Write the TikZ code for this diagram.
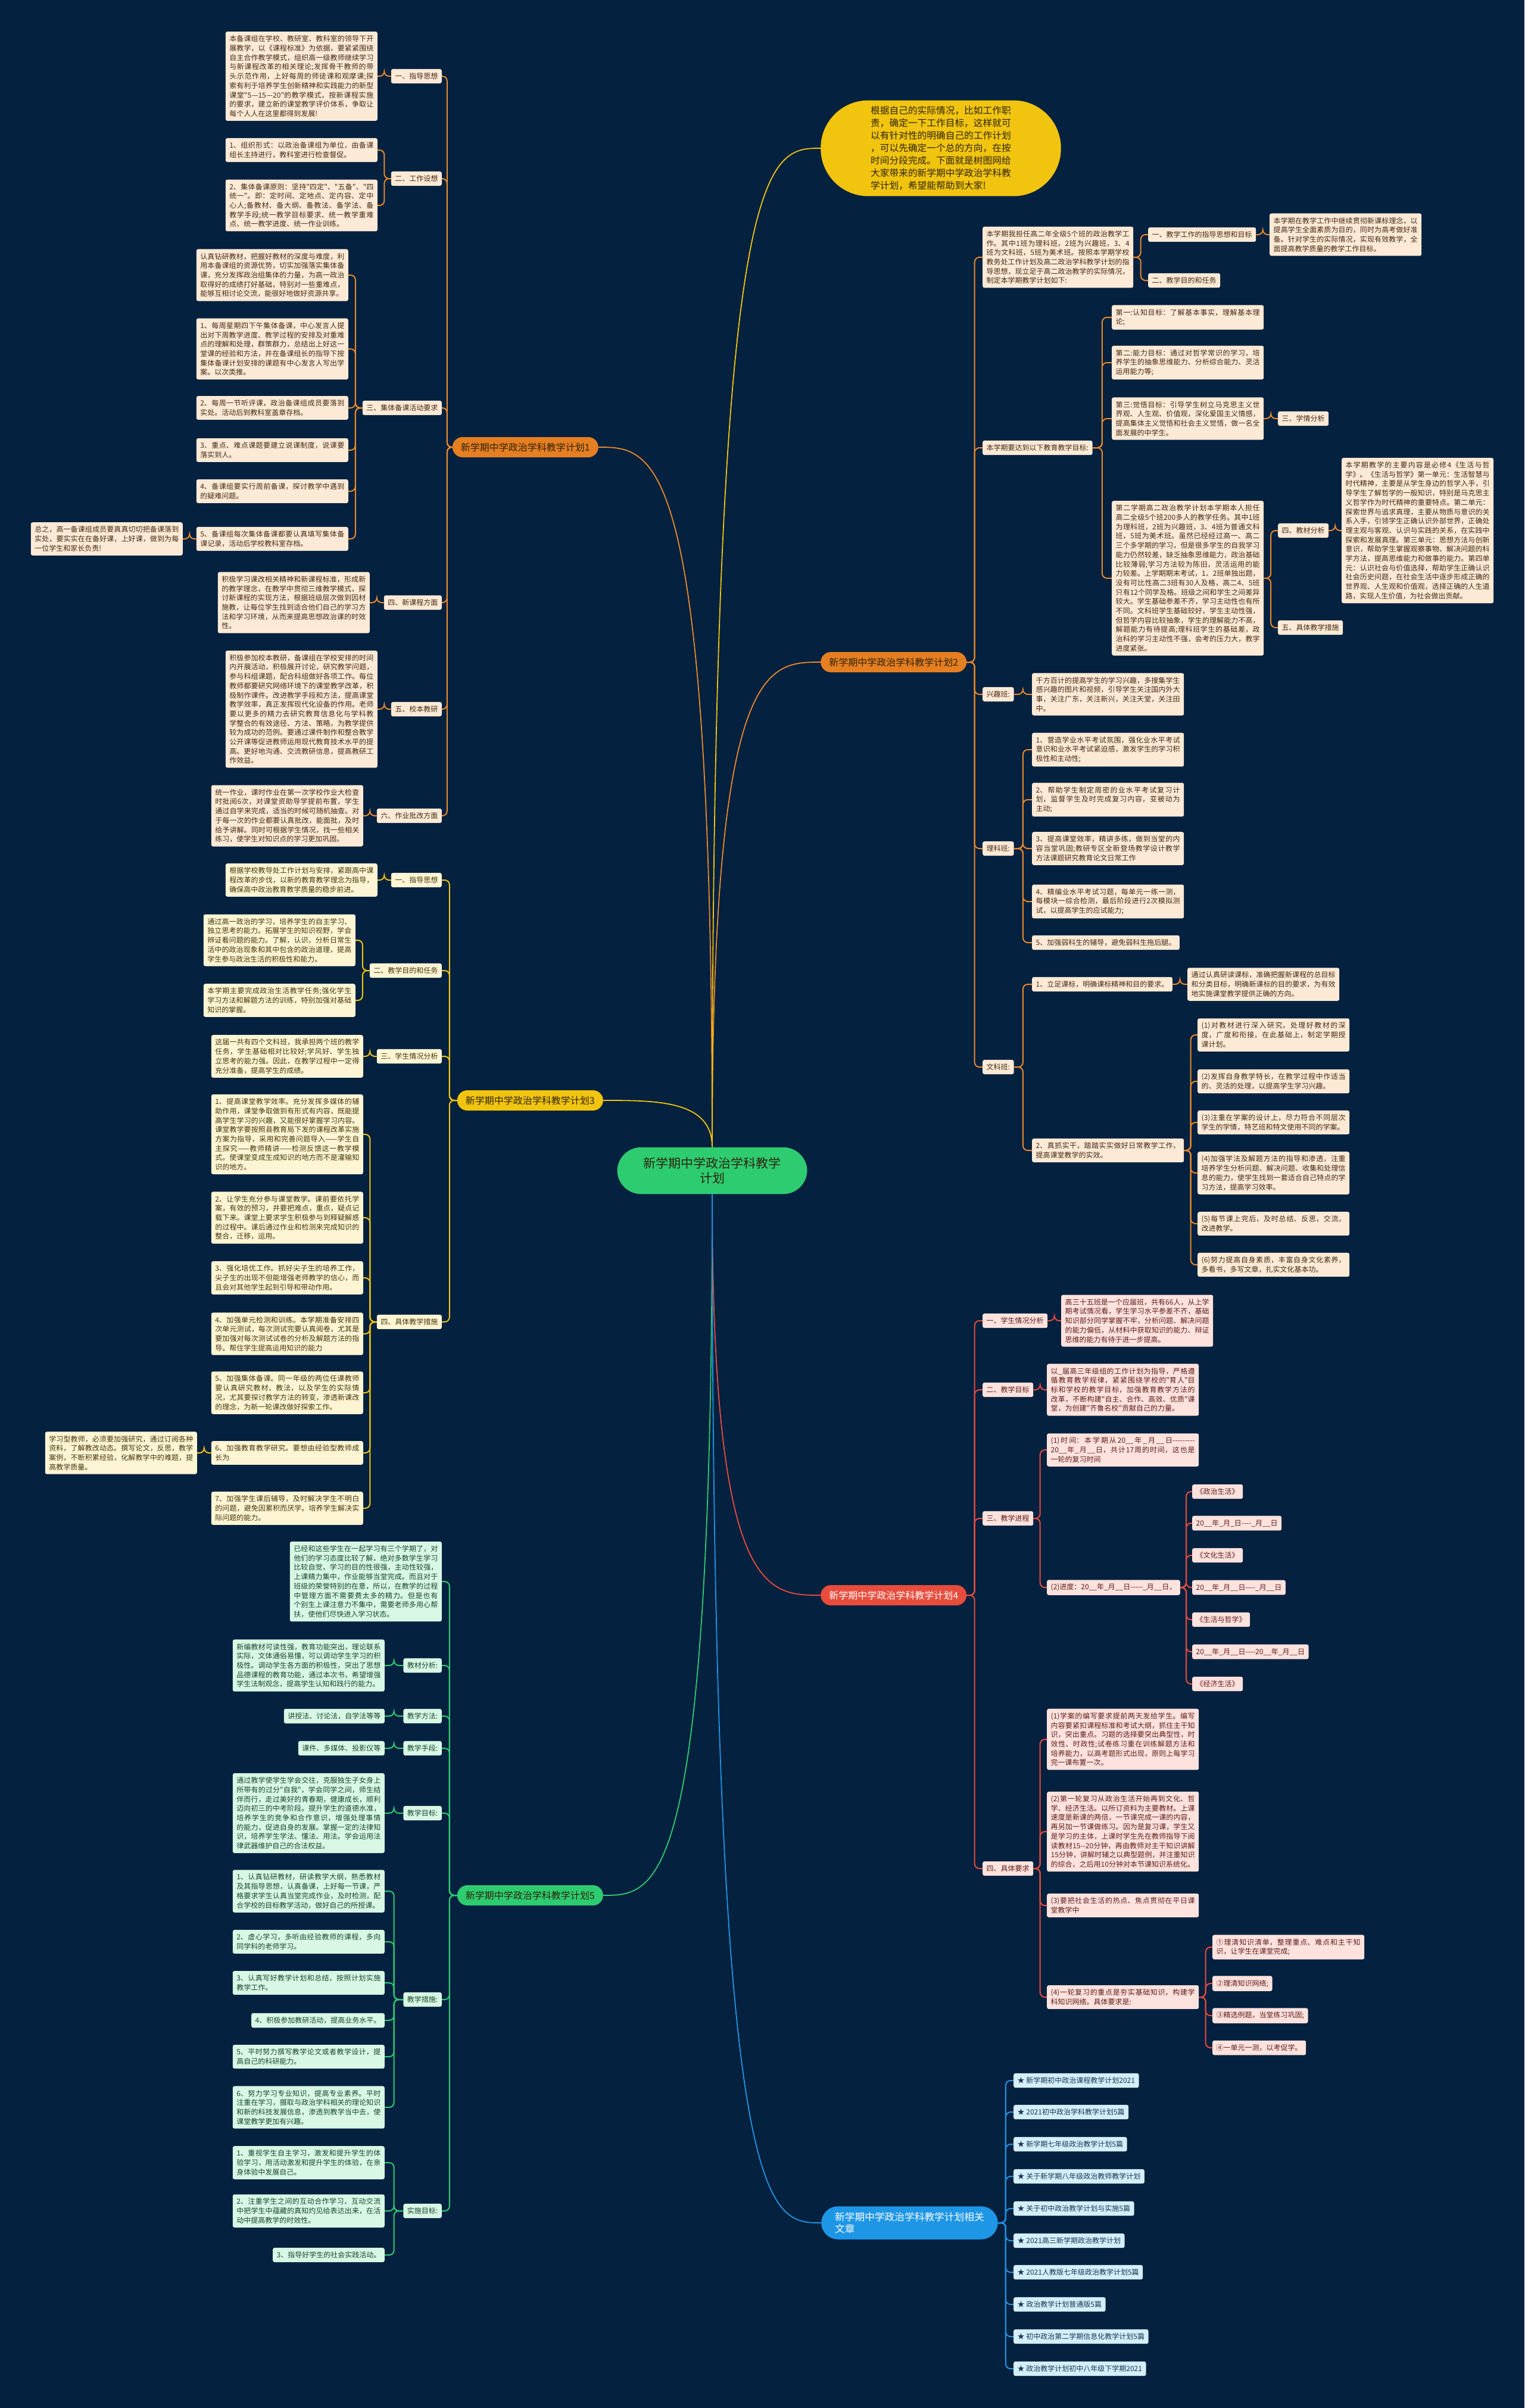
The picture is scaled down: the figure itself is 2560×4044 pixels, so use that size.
\documentclass[tikz,border=0pt]{standalone}
\usepackage{fontspec}
\usepackage{tikz}
\usetikzlibrary{positioning, calc}
\newfontfamily\zh{Noto Sans CJK SC}
\XeTeXlinebreaklocale "zh"
\XeTeXlinebreakskip=0pt plus 1pt
\tolerance=9999
\emergencystretch=3em
\hbadness=10000
\definecolor{bgnavy}{RGB}{4,33,63}
\definecolor{orline}{RGB}{232,137,43}
\definecolor{orfill}{RGB}{230,126,34}
\definecolor{peach}{RGB}{252,234,214}
\definecolor{yeline}{RGB}{241,196,15}
\definecolor{cream}{RGB}{253,245,212}
\definecolor{reline}{RGB}{231,76,60}
\definecolor{pinkish}{RGB}{253,226,222}
\definecolor{grline}{RGB}{46,204,113}
\definecolor{mint}{RGB}{216,247,229}
\definecolor{blline}{RGB}{30,150,230}
\definecolor{skyb}{RGB}{212,238,251}
\definecolor{inkbrown}{RGB}{70,42,20}
\definecolor{inkolive}{RGB}{70,55,10}
\definecolor{inkred}{RGB}{95,30,25}
\definecolor{inkgreen}{RGB}{25,70,45}
\definecolor{inkblue}{RGB}{25,55,80}
\definecolor{inkdark}{RGB}{45,35,10}

\tikzset{
  box/.style={rounded corners=3pt, inner xsep=6.5pt, inner ysep=6.5pt, font=\zh\fontsize{12}{15.7}\selectfont},
  wide/.style={text width=242pt, align=justify},
  obox/.style={box, fill=peach, text=inkbrown},
  ybox/.style={box, fill=cream, text=inkolive},
  rbox/.style={box, fill=pinkish, text=inkred},
  gbox/.style={box, fill=mint, text=inkgreen},
  bbox/.style={box, fill=skyb, text=inkblue},
  plan/.style={rounded corners=17pt, minimum width=245pt, minimum height=34pt, inner xsep=14pt, inner ysep=8pt, font=\zh\fontsize{16}{19}\selectfont},
  oline/.style={draw=orline, line width=2pt, rounded corners=8pt},
  yline/.style={draw=yeline, line width=2pt, rounded corners=8pt},
  rline/.style={draw=reline, line width=2pt, rounded corners=8pt},
  gline/.style={draw=grline, line width=2pt, rounded corners=8pt},
  bline/.style={draw=blline, line width=2pt, rounded corners=8pt}
}

\begin{document}
\begin{tikzpicture}[x=1pt, y=1pt]
    \useasboundingbox (0,0) rectangle (2560,-4044);
    \fill[bgnavy] (0,0) rectangle (2560,-4044);

    % 中心
    \node[fill=grline, rounded corners=40pt, inner xsep=44pt, inner ysep=17pt, align=center,
          font=\zh\fontsize{21}{25}\selectfont, text=inkdark] (ctr) at (1196,-1966)
          {新学期中学政治学科教学\\计划};
    \node[fill=yeline, rounded corners=80pt, inner xsep=84pt, inner ysep=10pt, align=left,
          font=\zh\fontsize{15.7}{21}\selectfont, text=inkdark, anchor=west] (intro) at (1378,-249)
          {根据自己的实际情况，比如工作职\\责，确定一下工作目标，这样就可\\以有针对性的明确自己的工作计划\\，可以先确定一个总的方向，在按\\时间分段完成。下面就是树图网给\\大家带来的新学期中学政治学科教\\学计划，希望能帮助到大家!};

    % 计划1
    \node[plan, fill=orfill, text=inkdark, anchor=east] (p1) at (1005,-751) {新学期中学政治学科教学计划1};
    \node[obox, anchor=east] (l11) at (742,-128) {一、指导思想};
    \node[obox, wide, anchor=east] (a11) at (634,-128) {本备课组在学校、教研室、教科室的领导下开展教学，以《课程标准》为依据，要紧紧围绕自主合作教学模式，组织高一级教师继续学习与新课程改革的相关理论;发挥骨干教师的带头示范作用，上好每周的师徒课和观摩课;探索有利于培养学生创新精神和实践能力的新型课堂"5—15—20"的教学模式，按新课程实施的要求，建立新的课堂教学评价体系，争取让每个人人在这里都得到发展!};
    \node[obox, anchor=east] (l12) at (742,-300) {二、工作设想};
    \node[obox, wide, anchor=east] (a121) at (634,-252) {1、组织形式：以政治备课组为单位，由备课组长主持进行，教科室进行检查督促。};
    \node[obox, wide, anchor=east] (a122) at (634,-345) {2、集体备课原则：坚持"四定"、"五备"、"四统一"。即：定时间、定地点、定内容、定中心人;备教材、备大纲、备教法、备学法、备教学手段;统一教学目标要求、统一教学重难点、统一教学进度、统一作业训练。};
    \node[obox, anchor=east] (l13) at (742,-685) {三、集体备课活动要求};
    \node[obox, wide, anchor=east] (a130) at (585,-462) {认真钻研教材，把握好教材的深度与难度，利用本备课组的资源优势，切实加强落实集体备课，充分发挥政治组集体的力量，为高一政治取得好的成绩打好基础，特别对一些重难点，能够互相讨论交流，能很好地做好资源共享。};
    \node[obox, wide, anchor=east] (a131) at (585,-586) {1、每周星期四下午集体备课，中心发言人提出对下周教学进度、教学过程的安排及对重难点的理解和处理，群策群力，总结出上好这一堂课的经验和方法，并在备课组长的指导下按集体备课计划安排的课题有中心发言人写出学案。以次类推。};
    \node[obox, wide, anchor=east] (a132) at (585,-685) {2、每周一节听评课，政治备课组成员要落到实处。活动后到教科室盖章存档。};
    \node[obox, wide, anchor=east] (a133) at (585,-756) {3、重点、难点课题要建立说课制度，说课要落实到人。};
    \node[obox, wide, anchor=east] (a134) at (585,-825) {4、备课组要实行周前备课，探讨教学中遇到的疑难问题。};
    \node[obox, wide, anchor=east] (a135) at (585,-905) {5、备课组每次集体备课都要认真填写集体备课记录，活动后学校教科室存档。};
    \node[obox, wide, anchor=east] (a1351) at (307,-905) {总之，高一备课组成员要真真切切把备课落到实处，要实实在在备好课，上好课，做到为每一位学生和家长负责!};
    \node[obox, anchor=east] (l14) at (742,-1012) {四、新课程方面};
    \node[obox, wide, anchor=east] (a14) at (621,-1012) {积极学习课改相关精神和新课程标准，形成新的教学理念，在教学中贯彻三维教学模式，探讨新课程的实现方法，根据班级层次做到因材施教，让每位学生找到适合他们自己的学习方法和学习环境，从而来提高思想政治课的时效性。};
    \node[obox, anchor=east] (l15) at (742,-1191) {五、校本教研};
    \node[obox, wide, anchor=east] (a15) at (634,-1191) {积极参加校本教研，备课组在学校安排的时间内开展活动，积极展开讨论，研究教学问题，参与科组课题，配合科组做好各项工作。每位教师都要研究网络环境下的课堂教学改革，积极制作课件。改进教学手段和方法，提高课堂教学效率，真正发挥现代化设备的作用。老师要以更多的精力去研究教育信息化与学科教学整合的有效途径、方法、策略，为教学提供较为成功的范例。要通过课件制作和整合教学公开课等促进教师运用现代教育技术水平的提高。更好地沟通、交流教研信息，提高教研工作效益。};
    \node[obox, anchor=east] (l16) at (742,-1370) {六、作业批改方面};
    \node[obox, wide, anchor=east] (a16) at (610,-1370) {统一作业，课时作业在第一次学校作业大检查时批阅6次，对课堂资助导学提前布置，学生通过自学来完成，适当的时候可随机抽查。对于每一次的作业都要认真批改，能面批，及时给予讲解。同时可根据学生情况，找一些相关练习，使学生对知识点的学习更加巩固。};
    \foreach \a/\b in {p1/l11, p1/l12, p1/l13, p1/l14, p1/l15, p1/l16, l11/a11, l12/a121, l12/a122,
                       l13/a130, l13/a131, l13/a132, l13/a133, l13/a134, l13/a135, a135/a1351,
                       l14/a14, l15/a15, l16/a16}
        \draw[oline] (\a.west) -- ($(\a.west)!.5!(\a.west-|\b.east)$) |- (\b.east);

    % 计划3
    \node[plan, fill=yeline, text=inkdark, anchor=east] (p3) at (1013,-1848) {新学期中学政治学科教学计划3};
    \node[ybox, anchor=east] (l31) at (742,-1478) {一、指导思想};
    \node[ybox, wide, anchor=east] (a31) at (634,-1478) {根据学校教导处工作计划与安排，紧跟高中课程改革的步伐，以新的教育教学理念为指导，确保高中政治教育教学质量的稳步前进。};
    \node[ybox, anchor=east] (l32) at (742,-1630) {二、教学目的和任务};
    \node[ybox, wide, anchor=east] (a321) at (597,-1579) {通过高一政治的学习，培养学生的自主学习、独立思考的能力。拓展学生的知识视野，学会辨证看问题的能力。了解，认识，分析日常生活中的政治现象和其中包含的政治道理，提高学生参与政治生活的积极性和能力。};
    \node[ybox, wide, anchor=east] (a322) at (597,-1680) {本学期主要完成政治生活教学任务;强化学生学习方法和解题方法的训练，特别加强对基础知识的掌握。};
    \node[ybox, anchor=east] (l33) at (742,-1774) {三、学生情况分析};
    \node[ybox, wide, anchor=east] (a33) at (610,-1774) {这届一共有四个文科班，我承担两个班的教学任务，学生基础相对比较好;学风好、学生独立思考的能力强。因此，在教学过程中一定得充分准备，提高学生的成绩。};
    \node[ybox, anchor=east] (l34) at (742,-2220) {四、具体教学措施};
    \node[ybox, wide, anchor=east] (a341) at (610,-1905) {1、提高课堂教学效率。充分发挥多媒体的辅助作用，课堂争取做到有形式有内容，既能提高学生学习的兴趣，又能很好掌握学习内容。课堂教学要按照县教育局下发的课程改革实施方案为指导，采用和完善问题导入——学生自主探究——教师精讲——检测反馈这一教学模式。使课堂变成生成知识的地方而不是灌输知识的地方。};
    \node[ybox, wide, anchor=east] (a342) at (610,-2045) {2、让学生充分参与课堂教学。课前要依托学案，有效的预习，并要把难点，重点，疑点记载下来。课堂上要求学生积极参与到释疑解惑的过程中。课后通过作业和检测来完成知识的整合，迁移，运用。};
    \node[ybox, wide, anchor=east] (a343) at (610,-2146) {3、强化培优工作。抓好尖子生的培养工作，尖子生的出现不但能增强老师教学的信心，而且会对其他学生起到引导和带动作用。};
    \node[ybox, wide, anchor=east] (a344) at (610,-2240) {4、加强单元检测和训练。本学期准备安排四次单元测试，每次测试完要认真阅卷，尤其是要加强对每次测试试卷的分析及解题方法的指导。帮住学生提高运用知识的能力};
    \node[ybox, wide, anchor=east] (a345) at (610,-2339) {5、加强集体备课。同一年级的两位任课教师要认真研究教材，教法，以及学生的实际情况，尤其要探讨教学方法的转变，渗透新课改的理念，为新一轮课改做好探索工作。};
    \node[ybox, wide, anchor=east] (a346) at (610,-2440) {6、加强教育教学研究。要想由经验型教师成长为};
    \node[ybox, wide, anchor=east] (a3461) at (331,-2440) {学习型教师，必须要加强研究，通过订阅各种资料，了解教改动态。撰写论文，反思，教学案例，不断积累经验，化解教学中的难题，提高教学质量。};
    \node[ybox, wide, anchor=east] (a347) at (610,-2533) {7、加强学生课后辅导，及时解决学生不明白的问题，避免因累积而厌学。培养学生解决实际问题的能力。};
    \foreach \a/\b in {p3/l31, p3/l32, p3/l33, p3/l34, l31/a31, l32/a321, l32/a322, l33/a33,
                       l34/a341, l34/a342, l34/a343, l34/a344, l34/a345, l34/a346, l34/a347, a346/a3461}
        \draw[yline] (\a.west) -- ($(\a.west)!.5!(\a.west-|\b.east)$) |- (\b.east);

    % 计划5
    \node[plan, fill=grline, text=inkdark, anchor=east] (p5) at (1013,-3183) {新学期中学政治学科教学计划5};
    \node[gbox, wide, anchor=east] (a50) at (742,-2656) {已经和这些学生在一起学习有三个学期了，对他们的学习态度比较了解，绝对多数学生学习比较自觉，学习的目的性很强，主动性较强，上课精力集中，作业能够当堂完成。而且对于班级的荣誉特别的在意，所以，在教学的过程中管理方面不需要费太多的精力。但是也有个别生上课注意力不集中，需要老师多用心帮扶，使他们尽快进入学习状态。};
    \node[gbox, anchor=east] (l51) at (742,-2797) {教材分析:};
    \node[gbox, wide, anchor=east] (a51) at (646,-2797) {新编教材可读性强，教育功能突出，理论联系实际，文体通俗易懂，可以调动学生学习的积极性。调动学生各方面的积极性，突出了思想品德课程的教育功能，通过本次书，希望增强学生法制观念，提高学生认知和践行的能力。};
    \node[gbox, anchor=east] (l52) at (742,-2882) {教学方法:};
    \node[gbox, anchor=east] (a52) at (646,-2882) {讲授法、讨论法，自学法等等};
    \node[gbox, anchor=east] (l53) at (742,-2936) {教学手段:};
    \node[gbox, anchor=east] (a53) at (646,-2936) {课件、多媒体、投影仪等};
    \node[gbox, anchor=east] (l54) at (742,-3045) {教学目标:};
    \node[gbox, wide, anchor=east] (a54) at (646,-3045) {通过教学使学生学会交往，克服独生子女身上所带有的过分"自我"，学会同学之间，师生结伴而行，走过美好的青春期，健康成长，顺利迈向初三的中考阶段。提升学生的道德水准，培养学生的竞争和合作意识，增强处理事情的能力，促进自身的发展。掌握一定的法律知识，培养学生学法、懂法、用法。学会运用法律武器维护自己的合法权益。};
    \node[gbox, anchor=east] (l55) at (742,-3358) {教学措施:};
    \node[gbox, wide, anchor=east] (a551) at (646,-3176) {1、认真钻研教材，研读教学大纲，熟悉教材及其指导思想，认真备课，上好每一节课，严格要求学生认真当堂完成作业，及时检测，配合学校的目标教学活动，做好自己的所授课。};
    \node[gbox, wide, anchor=east] (a552) at (646,-3261) {2、虚心学习，多听由经验教师的课程，多向同学科的老师学习。};
    \node[gbox, wide, anchor=east] (a553) at (646,-3330) {3、认真写好教学计划和总结，按照计划实施教学工作。};
    \node[gbox, anchor=east] (a554) at (646,-3393) {4、积极参加教研活动，提高业务水平。};
    \node[gbox, wide, anchor=east] (a555) at (646,-3454) {5、平时努力撰写教学论文或者教学设计，提高自己的科研能力。};
    \node[gbox, wide, anchor=east] (a556) at (646,-3539) {6、努力学习专业知识，提高专业素养。平时注重在学习，摄取与政治学科相关的理论知识和新的科技发展信息，渗透到教学当中去，使课堂教学更加有兴趣。};
    \node[gbox, anchor=east] (l56) at (742,-3713) {实施目标:};
    \node[gbox, wide, anchor=east] (a561) at (646,-3632) {1、重视学生自主学习，激发和提升学生的体验学习，用活动激发和提升学生的体验，在亲身体验中发展自己。};
    \node[gbox, wide, anchor=east] (a562) at (646,-3713) {2、注重学生之间的互动合作学习，互动交流中把学生中蕴藏的真知灼见给表达出来，在活动中提高教学的时效性。};
    \node[gbox, anchor=east] (a563) at (646,-3787) {3、指导好学生的社会实践活动。};
    \foreach \a/\b in {p5/a50, p5/l51, p5/l52, p5/l53, p5/l54, p5/l55, p5/l56, l51/a51, l52/a52, l53/a53,
                       l54/a54, l55/a551, l55/a552, l55/a553, l55/a554, l55/a555, l55/a556,
                       l56/a561, l56/a562, l56/a563}
        \draw[gline] (\a.west) -- ($(\a.west)!.5!(\a.west-|\b.east)$) |- (\b.east);

    % 计划2
    \node[plan, fill=orfill, text=inkdark, anchor=west] (p2) at (1378,-1112) {新学期中学政治学科教学计划2};
    \node[obox, wide, text width=240pt, anchor=west] (b1) at (1650,-432) {本学期我担任高二年全级5个班的政治教学工作。其中1班为理科班，2班为兴趣班，3、4班为文科班，5班为美术班。按照本学期学校教务处工作计划及高二政治学科教学计划的指导思想，现立足于高二政治教学的实际情况，制定本学期教学计划如下:};
    \node[obox, anchor=west] (b11) at (1928,-394) {一、教学工作的指导思想和目标};
    \node[obox, wide, anchor=west] (b111) at (2132,-394) {本学期在教学工作中继续贯彻新课标理念，以提高学生全面素质为目的，同时为高考做好准备。针对学生的实际情况，实现有效教学，全面提高教学质量的教学工作目标。};
    \node[obox, anchor=west] (b12) at (1928,-471) {二、教学目的和任务};
    \node[obox, anchor=west] (b2) at (1650,-752) {本学期要达到以下教育教学目标:};
    \node[obox, wide, anchor=west] (b21) at (1867,-533) {第一:认知目标：了解基本事实，理解基本理论;};
    \node[obox, wide, anchor=west] (b22) at (1867,-609) {第二:能力目标：通过对哲学常识的学习，培养学生的抽象思维能力、分析综合能力、灵活运用能力等;};
    \node[obox, wide, anchor=west] (b23) at (1867,-703) {第三:觉悟目标：引导学生树立马克思主义世界观、人生观、价值观，深化爱国主义情感，提高集体主义觉悟和社会主义觉悟，做一名全面发展的中学生。};
    \node[obox, anchor=west] (b231) at (2146,-703) {三、学情分析};
    \node[obox, wide, anchor=west] (b24) at (1867,-971) {第二学期高二政治教学计划本学期本人担任高二全级5个班200多人的教学任务。其中1班为理科班，2班为兴趣班，3、4班为普通文科班，5班为美术班。虽然已经经过高一、高二三个多学期的学习，但是很多学生的自我学习能力仍然较差，缺乏抽象思维能力，政治基础比较薄弱;学习方法较为陈旧，灵活运用的能力较差。上学期期末考试，1、2班单独出题，没有可比性高二3班有30人及格，高二4、5班只有12个同学及格。班级之间和学生之间差异较大。学生基础参差不齐，学习主动性也有所不同。文科班学生基础较好，学生主动性强，但哲学内容比较抽象，学生的理解能力不高，解题能力有待提高;理科班学生的基础差，政治科的学习主动性不强，会考的压力大，教学进度紧张。};
    \node[obox, anchor=west] (b241) at (2146,-891) {四、教材分析};
    \node[obox, wide, anchor=west] (b2411) at (2253,-891) {本学期教学的主要内容是必修4《生活与哲学》。《生活与哲学》第一单元：生活智慧与时代精神，主要是从学生身边的哲学入手，引导学生了解哲学的一般知识，特别是马克思主义哲学作为时代精神的重要特点。第二单元：探索世界与追求真理，主要从物质与意识的关系入手，引领学生正确认识外部世界，正确处理主观与客观、认识与实践的关系，在实践中探索和发展真理。第三单元：思想方法与创新意识，帮助学生掌握观察事物、解决问题的科学方法，提高思维能力和做事的能力。第四单元：认识社会与价值选择，帮助学生正确认识社会历史问题，在社会生活中逐步形成正确的世界观、人生观和价值观，选择正确的人生道路，实现人生价值，为社会做出贡献。};
    \node[obox, anchor=west] (b242) at (2146,-1054) {五、具体教学措施};
    \node[obox, anchor=west] (b3) at (1650,-1166) {兴趣班:};
    \node[obox, wide, anchor=west] (b31) at (1733,-1166) {千方百计的提高学生的学习兴趣，多搜集学生感兴趣的图片和视频，引导学生关注国内外大事，关注广东，关注新兴，关注天堂，关注田中。};
    \node[obox, anchor=west] (b4) at (1650,-1425) {理科班:};
    \node[obox, wide, anchor=west] (b41) at (1733,-1259) {1、营造学业水平考试氛围，强化业水平考试意识和业水平考试紧迫感，激发学生的学习积极性和主动性;};
    \node[obox, wide, anchor=west] (b42) at (1733,-1343) {2、帮助学生制定周密的业水平考试复习计划，监督学生及时完成复习内容，变被动为主动;};
    \node[obox, wide, anchor=west] (b43) at (1733,-1425) {3、提高课堂效率，精讲多练，做到当堂的内容当堂巩固;教研专区全新登场教学设计教学方法课题研究教育论文日常工作};
    \node[obox, wide, anchor=west] (b44) at (1733,-1514) {4、精编业水平考试习题，每单元一练一测，每模块一综合检测，最后阶段进行2次模拟测试，以提高学生的应试能力;};
    \node[obox, anchor=west] (b45) at (1733,-1583) {5、加强弱科生的辅导，避免弱科生拖后腿。};
    \node[obox, anchor=west] (b5) at (1650,-1792) {文科班:};
    \node[obox, anchor=west] (b51) at (1733,-1653) {1、立足课标，明确课标精神和目的要求。};
    \node[obox, wide, anchor=west] (b511) at (1994,-1653) {通过认真研读课标，准确把握新课程的总目标和分类目标，明确新课标的目的要求，为有效地实施课堂教学提供正确的方向。};
    \node[obox, wide, anchor=west] (b52) at (1733,-1932) {2、真抓实干，踏踏实实做好日常教学工作，提高课堂教学的实效。};
    \node[obox, wide, anchor=west] (b521) at (2011,-1738) {(1)对教材进行深入研究，处理好教材的深度，广度和衔接，在此基础上，制定学期授课计划。};
    \node[obox, wide, anchor=west] (b522) at (2011,-1816) {(2)发挥自身教学特长，在教学过程中作适当的、灵活的处理，以提高学生学习兴趣。};
    \node[obox, wide, anchor=west] (b523) at (2011,-1885) {(3)注重在学案的设计上，尽力符合不同层次学生的学情，特艺班和特文使用不同的学案。};
    \node[obox, wide, anchor=west] (b524) at (2011,-1970) {(4)加强学法及解题方法的指导和渗透，注重培养学生分析问题、解决问题、收集和处理信息的能力，使学生找到一套适合自己特点的学习方法，提高学习效率。};
    \node[obox, wide, anchor=west] (b525) at (2011,-2055) {(5)每节课上完后，及时总结、反思，交流，改进教学。};
    \node[obox, wide, anchor=west] (b526) at (2011,-2124) {(6)努力提高自身素质，丰富自身文化素养，多看书，多写文章，扎实文化基本功。};
    \foreach \a/\b in {p2/b1, p2/b2, p2/b3, p2/b4, p2/b5, b1/b11, b1/b12, b11/b111,
                       b2/b21, b2/b22, b2/b23, b2/b24, b23/b231, b24/b241, b24/b242, b241/b2411,
                       b3/b31, b4/b41, b4/b42, b4/b43, b4/b44, b4/b45, b5/b51, b5/b52, b51/b511,
                       b52/b521, b52/b522, b52/b523, b52/b524, b52/b525, b52/b526}
        \draw[oline] (\a.east) -- ($(\a.east)!.5!(\a.east-|\b.west)$) |- (\b.west);

    % 计划4
    \node[plan, fill=reline, text=white, anchor=west] (p4) at (1378,-2679) {新学期中学政治学科教学计划4};
    \node[rbox, anchor=west] (c1) at (1650,-2218) {一、学生情况分析};
    \node[rbox, wide, anchor=west] (c11) at (1782,-2218) {高三十五班是一个应届班，共有66人，从上学期考试情况看，学生学习水平参差不齐，基础知识部分同学掌握不牢，分析问题、解决问题的能力偏低，从材料中获取知识的能力、辩证思维的能力有待于进一步提高。};
    \node[rbox, anchor=west] (c2) at (1650,-2334) {二、教学目标};
    \node[rbox, wide, anchor=west] (c21) at (1758,-2334) {以\_届高三年级组的工作计划为指导，严格遵循教育教学规律，紧紧围绕学校的"育人"目标和学校的教学目标，加强教育教学方法的改革，不断构建"自主、合作、高效、优质"课堂，为创建"齐鲁名校"贡献自己的力量。};
    \node[rbox, anchor=west] (c3) at (1650,-2550) {三、教学进程};
    \node[rbox, wide, anchor=west] (c31) at (1758,-2435) {(1)时间：本学期从20\_\_年\_月\_\_日---------20\_\_年\_月\_\_日，共计17周的时间，这也是一轮的复习时间};
    \node[rbox, anchor=west] (c32) at (1758,-2666) {(2)进度：20\_\_年\_月\_\_日-----\_月\_\_日，};
    \foreach \i/\t/\y in {1/《政治生活》/-2505, 2/20\_\_年\_月\_日----\_月\_\_日/-2558, 3/《文化生活》/-2612,
                          4/20\_\_年\_月\_\_日----\_月\_\_日/-2666, 5/《生活与哲学》/-2720,
                          6/20\_\_年\_月\_\_日----20\_\_年\_月\_\_日/-2774, 7/《经济生活》/-2828}
        \node[rbox, anchor=west] (c32\i) at (2002,\y) {\t};
    \node[rbox, anchor=west] (c4) at (1650,-3138) {四、具体要求};
    \node[rbox, wide, anchor=west] (c41) at (1758,-2921) {(1)学案的编写要求提前两天发给学生。编写内容要紧扣课程标准和考试大纲，抓住主干知识，突出重点。习题的选择要突出典型性，时效性、时政性;试卷练习重在训练解题方法和培养能力，以高考题形式出现，原则上每学习完一课布置一次。};
    \node[rbox, wide, anchor=west] (c42) at (1758,-3076) {(2)第一轮复习从政治生活开始再到文化、哲学、经济生活。以所订资料为主要教材。上课速度是新课的两倍，一节课完成一课的内容，再另加一节课做练习。因为是复习课，学生又是学习的主体，上课时学生先在教师指导下阅读教材15--20分钟，再由教师对主干知识讲解15分钟，讲解时辅之以典型题例，并注重知识的综合，之后用10分钟对本节课知识系统化。};
    \node[rbox, wide, anchor=west] (c43) at (1758,-3200) {(3)要把社会生活的热点、焦点贯彻在平日课堂教学中};
    \node[rbox, wide, anchor=west] (c44) at (1758,-3354) {(4)一轮复习的重点是夯实基础知识，构建学科知识网络。具体要求是:};
    \node[rbox, wide, anchor=west] (c441) at (2036,-3270) {①理清知识清单，整理重点、难点和主干知识，让学生在课堂完成;};
    \node[rbox, anchor=west] (c442) at (2036,-3331) {②理清知识网络;};
    \node[rbox, anchor=west] (c443) at (2036,-3385) {③精选例题，当堂练习巩固;};
    \node[rbox, anchor=west] (c444) at (2036,-3439) {④一单元一测，以考促学。};
    \foreach \a/\b in {p4/c1, p4/c2, p4/c3, p4/c4, c1/c11, c2/c21, c3/c31, c3/c32,
                       c32/c321, c32/c322, c32/c323, c32/c324, c32/c325, c32/c326, c32/c327,
                       c4/c41, c4/c42, c4/c43, c4/c44, c44/c441, c44/c442, c44/c443, c44/c444}
        \draw[rline] (\a.east) -- ($(\a.east)!.5!(\a.east-|\b.west)$) |- (\b.west);

    % 相关文章
    \node[fill=blline, text=white, rounded corners=28pt, inner xsep=23pt, inner ysep=10pt, align=left,
          font=\zh\fontsize{16.7}{20}\selectfont, anchor=west] (p6) at (1379,-3733)
          {新学期中学政治学科教学计划相关\\文章};
    \foreach \i/\t/\y in {1/新学期初中政治课程教学计划2021/-3494, 2/2021初中政治学科教学计划5篇/-3547,
                          3/新学期七年级政治教学计划5篇/-3601, 4/关于新学期八年级政治教师教学计划/-3655,
                          5/关于初中政治教学计划与实施5篇/-3709, 6/2021高三新学期政治教学计划/-3763,
                          7/2021人教版七年级政治教学计划5篇/-3816, 8/政治教学计划普通版5篇/-3870,
                          9/初中政治第二学期信息化教学计划5篇/-3924, 10/政治教学计划初中八年级下学期2021/-3978}
    {
        \node[bbox, anchor=west] (d\i) at (1702,\y) {★ \t};
        \draw[bline] (p6.east) -- ($(p6.east)!.5!(p6.east-|d\i.west)$) |- (d\i.west);
    }

    % 中心连线
    \draw[orline, line width=1.8pt] (ctr.north) .. controls (ctr.north |- p1.east) and ($(ctr.north |- p1.east)!.5!(p1.east)$) .. (p1.east);
    \draw[yeline, line width=1.8pt] (ctr.north) .. controls (ctr.north |- p3.east) and ($(ctr.north |- p3.east)!.5!(p3.east)$) .. (p3.east);
    \draw[orline, line width=1.8pt] (ctr.north) .. controls (ctr.north |- p2.west) and ($(ctr.north |- p2.west)!.5!(p2.west)$) .. (p2.west);
    \draw[yeline, line width=1.8pt] (ctr.north) .. controls (ctr.north |- intro.west) and ($(ctr.north |- intro.west)!.5!(intro.west)$) .. (intro.west);
    \draw[reline, line width=1.8pt] (ctr.south) .. controls (ctr.south |- p4.west) and ($(ctr.south |- p4.west)!.5!(p4.west)$) .. (p4.west);
    \draw[grline, line width=1.8pt] (ctr.south) .. controls (ctr.south |- p5.east) and ($(ctr.south |- p5.east)!.5!(p5.east)$) .. (p5.east);
    \draw[blline, line width=1.8pt] (ctr.south) .. controls (ctr.south |- p6.west) and ($(ctr.south |- p6.west)!.5!(p6.west)$) .. (p6.west);
\end{tikzpicture}
\end{document}
